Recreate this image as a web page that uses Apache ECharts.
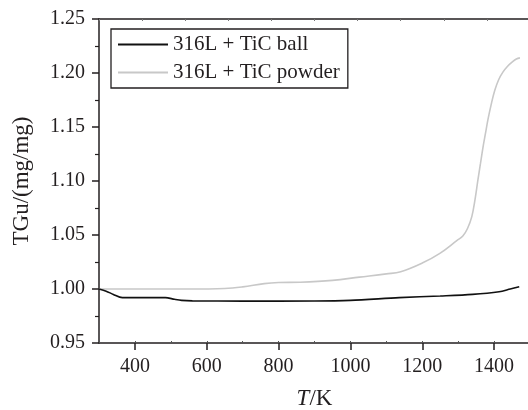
<!DOCTYPE html>
<html>
<head>
<meta charset="utf-8">
<script src="https://cdn.jsdelivr.net/npm/echarts@6/dist/echarts.min.js"></script>
<style>
  html, body { margin: 0; padding: 0; background: #fff; }
  #chart { width: 528px; height: 410px; }
</style>
</head>
<body>
<div id="chart"></div>
<script>
// 316L + TiC ball
const ballT = [300, 320, 340, 365, 420, 485, 510, 530, 560, 700, 900, 1000, 1136, 1250, 1340, 1414, 1445, 1470]
const ballTG = [1.000, 0.998, 0.995, 0.992, 0.992, 0.992, 0.9905, 0.9895, 0.989, 0.9888, 0.9889, 0.9895, 0.992, 0.9935, 0.995, 0.9975, 1.000, 1.002]

// 316L + TiC powder
const powderT = [300, 400, 550, 650, 700, 760, 800, 860, 950, 1025, 1100, 1140, 1200, 1249, 1297, 1313, 1326, 1338, 1347, 1355, 1362, 1369, 1376, 1383, 1392, 1402, 1413, 1425, 1437, 1450, 1462, 1472]
const powderTG = [1.000, 1.000, 1.000, 1.0005, 1.002, 1.005, 1.006, 1.0063, 1.008, 1.011, 1.014, 1.016, 1.024, 1.033, 1.045, 1.049, 1.056, 1.067, 1.083, 1.101, 1.116, 1.131, 1.144, 1.157, 1.171, 1.184, 1.194, 1.201, 1.206, 1.210, 1.213, 1.214]

const seriesNames = ['316L + TiC ball', '316L + TiC powder']
const xTicks = [400, 600, 800, 1000, 1200, 1400]

const font = 'Liberation Serif'
const ink = '#231f20'

const zip = (xs, ys) => xs.map((x, i) => [x, ys[i]])

const chart = echarts.init(document.getElementById('chart'))

chart.setOption({
  animation: false,
  backgroundColor: '#fff',
  grid: { left: 99, top: 19, right: -2, bottom: 67, outerBoundsMode: 'none', containLabel: false },
  legend: {
    left: 111,
    top: 29,
    orient: 'vertical',
    data: seriesNames,
    itemWidth: 50,
    itemHeight: 14,
    itemGap: 7,
    padding: [5, 8, 5, 6],
    borderColor: ink,
    borderWidth: 1.3,
    itemStyle: { opacity: 0 },
    textStyle: { fontFamily: font, fontSize: 21, color: ink, lineHeight: 21 }
  },
  xAxis: [
    {
      // data axis, minor ticks every 100 K
      type: 'value',
      min: 300,
      max: 1500,
      interval: 100,
      position: 'bottom',
      axisLine: { lineStyle: { color: ink, width: 1.5 } },
      axisTick: { inside: true, length: 2, lineStyle: { color: '#555', width: 1 } },
      axisLabel: { show: false },
      splitLine: { show: false }
    },
    {
      // major ticks and labels
      type: 'value',
      min: 300,
      max: 1500,
      position: 'bottom',
      axisLine: { show: false },
      axisTick: { show: true, customValues: xTicks, length: 7, lineStyle: { color: ink, width: 1.5 } },
      axisLabel: {
        customValues: xTicks,
        margin: 14,
        fontFamily: font,
        fontSize: 20,
        color: ink,
        formatter: v => String(v)
      },
      splitLine: { show: false },
      name: '{i|T}/K',
      nameLocation: 'middle',
      nameGap: 44,
      nameTextStyle: {
        fontFamily: font,
        fontSize: 23,
        color: ink,
        rich: { i: { fontFamily: font, fontSize: 23, fontStyle: 'italic', color: ink } }
      }
    },
    {
      // top frame
      type: 'value',
      min: 0,
      max: 10,
      interval: 1,
      position: 'top',
      axisLine: { lineStyle: { color: ink, width: 1.5 } },
      axisTick: { inside: true, length: 2, lineStyle: { color: '#777', width: 1 } },
      axisLabel: { show: false },
      splitLine: { show: false }
    }
  ],
  yAxis: {
    type: 'value',
    min: 0.95,
    max: 1.25,
    interval: 0.05,
    axisLine: { show: true, lineStyle: { color: ink, width: 1.5 } },
    axisTick: { show: true, length: 7, lineStyle: { color: ink, width: 1.5 } },
    minorTick: { show: true, splitNumber: 2, length: 4, lineStyle: { color: ink, width: 1.2 } },
    axisLabel: {
      margin: 14,
      fontFamily: font,
      fontSize: 20,
      color: ink,
      formatter: v => v.toFixed(2)
    },
    splitLine: { show: false },
    name: 'TGu/(mg/mg)',
    nameLocation: 'middle',
    nameGap: 66,
    nameTextStyle: { fontFamily: font, fontSize: 23, color: ink }
  },
  series: [
    {
      name: seriesNames[0],
      type: 'line',
      xAxisIndex: 0,
      data: zip(ballT, ballTG),
      symbol: 'none',
      smooth: 0.3,
      lineStyle: { color: '#111', width: 1.6 },
      itemStyle: { color: '#111' },
      z: 3
    },
    {
      name: seriesNames[1],
      type: 'line',
      xAxisIndex: 0,
      data: zip(powderT, powderTG),
      symbol: 'none',
      smooth: 0.4,
      lineStyle: { color: '#c8c8c8', width: 1.6 },
      itemStyle: { color: '#c8c8c8' },
      z: 2
    }
  ]
})
</script>
</body>
</html>
